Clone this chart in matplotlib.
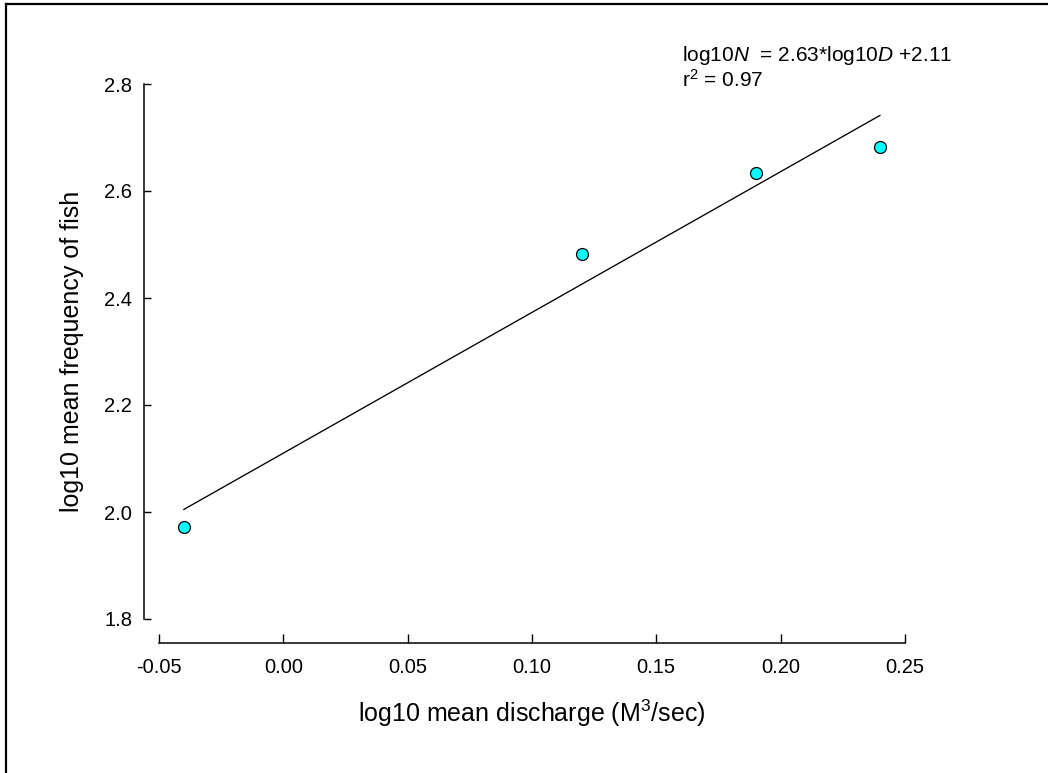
import matplotlib
matplotlib.use("Agg")
import matplotlib.pyplot as plt
from matplotlib.lines import Line2D
import numpy as np

plt.rcParams['font.family'] = ['Liberation Sans', 'DejaVu Sans']
plt.rcParams['mathtext.fontset'] = 'custom'
plt.rcParams['mathtext.rm'] = 'Liberation Sans'
plt.rcParams['mathtext.it'] = 'Liberation Sans:italic'
plt.rcParams['mathtext.bf'] = 'Liberation Sans:bold'

# Data
log_discharge = [-0.04, 0.12, 0.19, 0.24]
log_freq = [1.972, 2.483, 2.633, 2.683]
slope = 2.63
intercept = 2.11
fit_x = [-0.04, 0.24]
x_ticks = [-0.05, 0.00, 0.05, 0.10, 0.15, 0.20, 0.25]
x_ticklabels = ['-0.05', '0.00', '0.05', '0.10', '0.15', '0.20', '0.25']
y_ticks = [1.8, 2.0, 2.2, 2.4, 2.6, 2.8]
y_ticklabels = ['1.8', '2.0', '2.2', '2.4', '2.6', '2.8']

W, H = 1048, 773
fig = plt.figure(figsize=(W / 100, H / 100), dpi=100)

# axes placement (pixels)
left_px, right_px, top_px, bottom_px = 144, 920, 70, 643
ax = fig.add_axes([left_px / W, 1 - bottom_px / H,
                   (right_px - left_px) / W, (bottom_px - top_px) / H])

xppu = 124.3 / 0.05
yppu = 535.0
ax.set_xlim(-0.05 - 15 / xppu, -0.05 - 15 / xppu + (right_px - left_px) / xppu)
ax.set_ylim(1.8 - 24 / yppu, 1.8 - 24 / yppu + (bottom_px - top_px) / yppu)

fx = np.array(fit_x)
ax.plot(fx, slope * fx + intercept, color='black', lw=0.95, zorder=2)
ax.plot(log_discharge, log_freq, 'o', color='#00FFFF', markeredgecolor='black',
        markeredgewidth=0.9, markersize=8.6, zorder=3, clip_on=False)

for s in ['top', 'right']:
    ax.spines[s].set_visible(False)
ax.spines['left'].set_bounds(1.8, 2.8)
ax.spines['bottom'].set_bounds(-0.05, 0.25)
ax.spines['left'].set_linewidth(1.1)
ax.spines['bottom'].set_linewidth(1.1)

ax.set_xticks(x_ticks)
ax.set_xticklabels(x_ticklabels)
ax.set_yticks(y_ticks)
ax.set_yticklabels(y_ticklabels)
ax.tick_params(axis='x', direction='in', length=6.5, width=1.0, pad=10.5, labelsize=14.5)
ax.tick_params(axis='y', direction='in', length=5.0, width=1.0, pad=8.6, labelsize=14.5)

fig.text(532 / W, 1 - 713 / H, 'log10 mean discharge (M$^3$/sec)',
         ha='center', va='center', fontsize=18)
fig.text(72 / W, 1 - 351 / H, 'log10 mean frequency of fish',
         ha='center', va='center', rotation=90, fontsize=18)

fig.text(682 / W, 1 - 61 / H, 'log10$\\mathit{N}$  = 2.63*log10$\\mathit{D}$ +2.11',
         ha='left', va='baseline', fontsize=15)
fig.text(682 / W, 1 - 87 / H, 'r$^2$ = 0.97',
         ha='left', va='baseline', fontsize=15)

# outer frame (top and left edges visible)
fig.add_artist(Line2D([6 / W, 6 / W], [0, 1 - 4 / H], transform=fig.transFigure,
                      color='black', lw=1.6))
fig.add_artist(Line2D([6 / W, 1], [1 - 4 / H, 1 - 4 / H], transform=fig.transFigure,
                      color='black', lw=1.6))

fig.savefig('out.png', dpi=100)
